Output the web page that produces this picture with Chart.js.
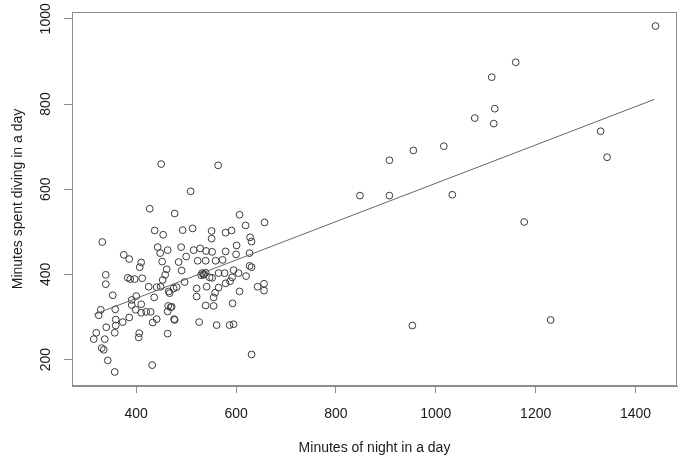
<!DOCTYPE html>
<html>
<head>
<meta charset="utf-8">
<script src="https://cdn.jsdelivr.net/npm/chart.js@4.4.1/dist/chart.umd.min.js"></script>
<style>
  html, body { margin: 0; padding: 0; background: #fff; }
  canvas { display: block; }
</style>
</head>
<body>
<canvas id="diveChart" width="682" height="461"></canvas>
<script>
// Values (minutes of night vs minutes diving)
const nightMinutes = [
    427, 477, 332, 437, 454, 375, 386, 410, 407, 443, 463, 448, 452, 461, 458, 453, 449,
    339, 339, 383, 388, 397, 412, 425, 441, 353, 400, 391, 436, 465, 475, 481, 467,
    391, 410, 420, 429, 410, 399, 329, 325, 358, 464, 469, 463, 476, 441, 433, 386,
    373, 359, 359, 340, 357, 320, 315, 337, 406, 405, 463, 331, 335, 343, 357, 432,
    509, 607, 657, 619, 493, 513, 551, 551, 579, 591, 628, 631, 601, 600, 627, 490,
    500, 485, 515, 528, 540, 552, 579, 523, 539, 559, 573, 491, 497, 532, 535, 539,
    547, 552, 565, 577, 595, 592, 605, 620, 627, 631, 588, 579, 565, 558, 555, 521,
    521, 541, 539, 555, 593, 607, 643, 656, 656, 477, 526, 561, 587, 595, 631, 471,
    536, 530, 450, 564,
    848, 907, 907, 955, 1016, 1033, 953, 1078, 1112, 1118, 1116, 1160, 1177, 1230,
    1330, 1343, 1440
];
const divingMinutes = [
    554, 543, 476, 503, 493, 446, 436, 428, 417, 464, 457, 450, 430, 412, 399, 387, 371,
    399, 377, 392, 389, 389, 391, 371, 370, 351, 349, 340, 346, 360, 367, 370, 356,
    328, 330, 312, 312, 310, 317, 317, 304, 318, 326, 323, 313, 295, 295, 287, 299,
    288, 294, 280, 276, 263, 263, 248, 248, 262, 252, 261, 227, 223, 198, 171, 187,
    595, 540, 522, 515, 504, 508, 502, 484, 498, 503, 487, 477, 468, 447, 450, 464,
    442, 429, 457, 461, 455, 453, 454, 432, 432, 432, 434, 409, 382, 403, 399, 404,
    393, 392, 403, 403, 410, 393, 403, 396, 420, 417, 384, 379, 369, 357, 346, 367,
    348, 371, 327, 326, 332, 360, 371, 378, 362, 293, 288, 281, 281, 283, 212, 324,
    401, 398, 659, 656,
    585, 668, 585, 691, 701, 587, 280, 767, 863, 789, 754, 898, 523, 293,
    736, 675, 983
];

// Fitted line, read at both ends of the drawn segment
const fitX = [316, 1438];
const fitY = [306, 811];

// Axis ranges and tick labels
const xRange = [271.4, 1483];
const yRange = [138, 1016];
const xTicks = [400, 600, 800, 1000, 1200, 1400];
const yTicks = [200, 400, 600, 800, 1000];

const xTitle = 'Minutes of night in a day';
const yTitle = 'Minutes spent diving in a day';

const fontFamily = '"Liberation Sans", Arial, Helvetica, sans-serif';
const textColor = '#1a1a1a';
const frameColor = '#8c8c8c';

// R-style box around the plotting region
const plotBox = {
    id: 'plotBox',
    afterDatasetsDraw(chart) {
        const a = chart.chartArea;
        const ctx = chart.ctx;
        ctx.save();
        ctx.strokeStyle = frameColor;
        ctx.lineWidth = 1;
        ctx.strokeRect(Math.round(a.left) + 0.5, Math.round(a.top) + 0.5,
            Math.round(a.right - a.left) - 1, Math.round(a.bottom - a.top) - 1);
        ctx.restore();
    }
};

const points = nightMinutes.map((x, i) => ({ x: x, y: divingMinutes[i] }));
const fitLine = fitX.map((x, i) => ({ x: x, y: fitY[i] }));

function axisOptions(range, ticks, title, isY) {
    return {
        type: 'linear',
        position: isY ? 'left' : 'bottom',
        min: range[0],
        max: range[1],
        afterBuildTicks: scale => { scale.ticks = ticks.map(v => ({ value: v })); },
        afterFit: scale => {
            if (isY) scale.width = 72; else scale.height = 75;
        },
        ticks: {
            autoSkip: false,
            minRotation: isY ? 90 : 0,
            maxRotation: isY ? 90 : 0,
            crossAlign: isY ? 'center' : 'near',
            padding: isY ? 2 : 13,
            color: textColor,
            font: { family: fontFamily, size: 14 },
            callback: v => String(v)
        },
        grid: {
            drawOnChartArea: false,
            drawTicks: true,
            tickLength: isY ? 8 : 7,
            tickColor: frameColor,
            color: frameColor
        },
        border: { display: true, color: frameColor },
        title: {
            display: true,
            text: title,
            color: textColor,
            font: { family: fontFamily, size: 14 },
            padding: isY ? { top: 10, bottom: 0 } : { top: 0, bottom: 4 }
        }
    };
}

new Chart(document.getElementById('diveChart').getContext('2d'), {
    type: 'scatter',
    data: {
        datasets: [{
            data: points,
            pointStyle: 'circle',
            pointRadius: 3.4,
            pointBorderWidth: 1,
            borderColor: '#3a3a3a',
            backgroundColor: 'rgba(0,0,0,0)',
            order: 2
        }, {
            type: 'line',
            data: fitLine,
            borderColor: '#666666',
            borderWidth: 1,
            pointRadius: 0,
            fill: false,
            order: 1
        }]
    },
    options: {
        responsive: false,
        devicePixelRatio: 1,
        animation: false,
        events: [],
        layout: { padding: { top: 12, right: 4, left: 0, bottom: 0 } },
        plugins: {
            legend: { display: false },
            tooltip: { enabled: false }
        },
        scales: {
            x: axisOptions(xRange, xTicks, xTitle, false),
            y: axisOptions(yRange, yTicks, yTitle, true)
        }
    },
    plugins: [plotBox]
});
</script>
</body>
</html>
